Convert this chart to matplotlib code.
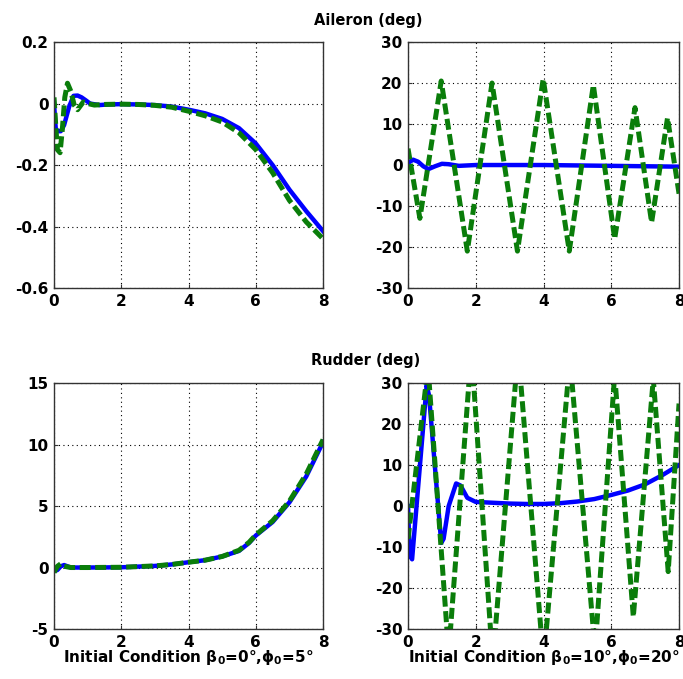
"""Aileron / rudder deflection time histories for two initial conditions."""

import matplotlib
matplotlib.use("Agg")
import matplotlib.pyplot as plt

plt.rcParams["font.family"] = ["DejaVu Sans"]
plt.rcParams["font.weight"] = "bold"
plt.rcParams["mathtext.default"] = "regular"
plt.rcParams["axes.unicode_minus"] = False

BLUE = "#0000FF"
GREEN = "#0A7D0A"

# ── data ───────────────────────────────────────────────────────────────────
# Aileron, beta0=0, phi0=5
t_ail1_blue = [0, 0.05, 0.1, 0.2, 0.3, 0.45, 0.58, 0.7, 0.82, 0.95, 1.07, 1.35, 1.6,
               2.0, 2.5, 3.0, 3.5, 4.0, 4.5, 5.0, 5.5, 6.0, 6.5, 7.0, 7.5, 8.0]
ail1_blue = [0.0, -0.08, -0.09, -0.09, -0.07, -0.01, 0.025, 0.026, 0.02, 0.01, 0.0,
             -0.005, -0.003, -0.002, -0.003, -0.005, -0.01, -0.02, -0.032, -0.05,
             -0.08, -0.13, -0.2, -0.28, -0.35, -0.415]
t_ail1_green = [0, 0.05, 0.1, 0.18, 0.25, 0.32, 0.4, 0.5, 0.6, 0.7, 0.87, 1.0, 1.2,
                1.5, 2.0, 2.5, 3.0, 3.5, 4.0, 4.5, 5.0, 5.5, 6.0, 6.5, 7.0, 7.5, 8.0]
ail1_green = [0.02, -0.07, -0.15, -0.16, -0.08, 0.02, 0.066, 0.04, -0.005, -0.02,
              0.005, 0.0, -0.005, -0.003, -0.002, -0.003, -0.006, -0.012, -0.025,
              -0.04, -0.06, -0.095, -0.15, -0.225, -0.315, -0.385, -0.44]

# Aileron, beta0=10, phi0=20
t_ail2_blue = [0, 0.15, 0.3, 0.45, 0.6, 0.8, 1.0, 1.2, 1.5, 2.0, 3.0, 4.0, 5.0, 6.0, 7.0, 8.0]
ail2_blue = [0.5, 1.3, 0.8, -0.3, -1.0, -0.3, 0.3, 0.2, -0.2, 0.0, 0.0, 0.0, -0.1,
             -0.2, -0.3, -0.4]
t_ail2_green = [0, 0.35, 0.98, 1.75, 2.48, 3.23, 3.99, 4.76, 5.47, 6.1, 6.7, 7.19, 7.66, 8.0]
ail2_green = [4, -13, 20.5, -21, 20, -21, 21, -21, 19.5, -18, 14, -14, 11.5, -7]

# Rudder, beta0=0, phi0=5
t_rud1 = [0, 0.1, 0.2, 0.3, 0.5, 1.0, 2.0, 3.0, 3.5, 4.0, 4.5, 5.0, 5.5, 5.8, 6.0,
          6.5, 7.0, 7.5, 8.0]
rud1_blue = [-0.3, -0.2, 0.1, 0.2, 0.0, 0.0, 0.02, 0.13, 0.25, 0.43, 0.6, 0.9, 1.35,
             2.0, 2.6, 3.7, 5.3, 7.4, 10.2]
rud1_green = [-0.4, 0.1, 0.3, 0.1, 0.0, 0.0, 0.02, 0.13, 0.25, 0.43, 0.6, 0.9, 1.4,
              2.05, 2.65, 3.8, 5.4, 7.6, 10.4]

# Rudder, beta0=10, phi0=20
t_rud2_blue = [0, 0.05, 0.12, 0.55, 0.62, 0.98, 1.05, 1.2, 1.42, 1.55, 1.75, 2.0,
               2.5, 3.0, 3.5, 4.0, 4.5, 5.0, 5.5, 6.0, 6.5, 7.0, 7.5, 8.0]
rud2_blue = [0, -12, -13, 29.5, 27, -9, -8, 0, 5.5, 5, 2, 1, 0.8, 0.6, 0.5, 0.5, 0.7,
             1.1, 1.7, 2.7, 3.8, 5.3, 7.5, 10]
t_rud2_green = [0, 0.59, 1.2, 1.87, 2.5, 3.25, 4.0, 4.78, 5.52, 6.1, 6.65, 7.24, 7.68, 8.0]
rud2_green = [-8, 34, -36, 38, -38, 38, -38, 36, -35, 32, -27, 31, -16, 25]

# ── figure ─────────────────────────────────────────────────────────────────
fig = plt.figure(figsize=(6.83, 6.79), dpi=100)

ax_pos = {
    "tl": [0.0791, 0.5758, 0.3939, 0.3623],
    "tr": [0.5974, 0.5758, 0.3968, 0.3623],
    "bl": [0.0791, 0.0736, 0.3939, 0.3623],
    "br": [0.5974, 0.0736, 0.3968, 0.3623],
}

panels = [
    ("tl", t_ail1_blue, ail1_blue, t_ail1_green, ail1_green,
     (-0.6, 0.2), [-0.6, -0.4, -0.2, 0, 0.2], ["-0.6", "-0.4", "-0.2", "0", "0.2"], None),
    ("tr", t_ail2_blue, ail2_blue, t_ail2_green, ail2_green,
     (-30, 30), [-30, -20, -10, 0, 10, 20, 30], None, None),
    ("bl", t_rud1, rud1_blue, t_rud1, rud1_green,
     (-5, 15), [-5, 0, 5, 10, 15], None,
     "Initial Condition β$_0$=0°,ϕ$_0$=5°"),
    ("br", t_rud2_blue, rud2_blue, t_rud2_green, rud2_green,
     (-30, 30), [-30, -20, -10, 0, 10, 20, 30], None,
     "Initial Condition β$_0$=10°,ϕ$_0$=20°"),
]

for key, tb, yb, tg, yg, ylim, yticks, ylabels, xlabel in panels:
    ax = fig.add_axes(ax_pos[key])
    ax.plot(tb, yb, color=BLUE, lw=3.2, solid_joinstyle="round")
    ax.plot(tg, yg, color=GREEN, lw=3.6, linestyle=(0, (2.2, 0.9)))
    ax.set_xlim(0, 8)
    ax.set_ylim(*ylim)
    ax.set_xticks([0, 2, 4, 6, 8])
    ax.set_yticks(yticks)
    if ylabels is not None:
        ax.set_yticklabels(ylabels)
    ax.grid(True, color="black", linestyle=(0, (1, 3)), linewidth=0.8)
    ax.tick_params(direction="in", length=3, labelsize=11, pad=4, color="#333333")
    for sp in ax.spines.values():
        sp.set_color("#333333")
        sp.set_linewidth(1.0)
    for lab in ax.get_xticklabels() + ax.get_yticklabels():
        lab.set_fontweight("bold")
    if xlabel:
        ax.set_xlabel(xlabel, fontsize=11, fontweight="bold", labelpad=-1)

fig.text(368 / 683, 1 - 20 / 679, "Aileron (deg)", ha="center", va="center",
         fontsize=10.5, fontweight="bold")
fig.text(366 / 683, 1 - 360 / 679, "Rudder (deg)", ha="center", va="center",
         fontsize=10.5, fontweight="bold")

fig.savefig("out.png", dpi=100)
plt.close(fig)
